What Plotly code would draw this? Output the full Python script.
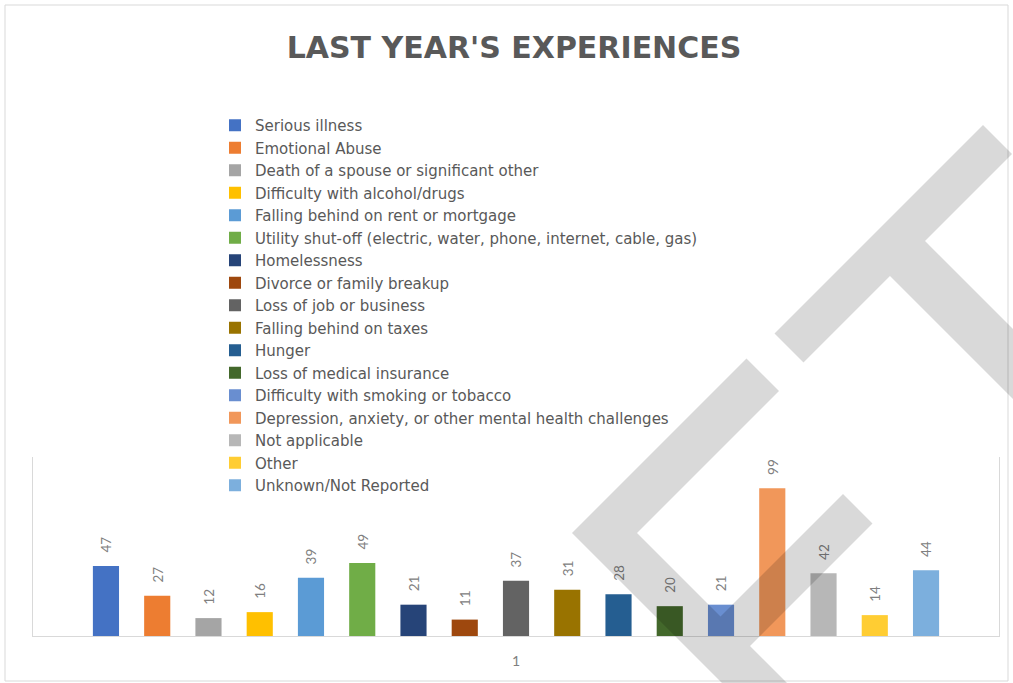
import plotly.graph_objects as go

categories = ["1"]
series_names = [
    "Serious illness",
    "Emotional Abuse",
    "Death of a spouse or significant other",
    "Difficulty with alcohol/drugs",
    "Falling behind on rent or mortgage",
    "Utility shut-off (electric, water, phone, internet, cable, gas)",
    "Homelessness",
    "Divorce or family breakup",
    "Loss of job or business",
    "Falling behind on taxes",
    "Hunger",
    "Loss of medical insurance",
    "Difficulty with smoking or tobacco",
    "Depression, anxiety, or other mental health challenges",
    "Not applicable",
    "Other",
    "Unknown/Not Reported",
]
series_values = [47, 27, 12, 16, 39, 49, 21, 11, 37, 31, 28, 20, 21, 99, 42, 14, 44]
series_colors = [
    "#4472C4", "#ED7D31", "#A5A5A5", "#FFC000", "#5B9BD5", "#70AD47",
    "#264478", "#9E480E", "#636363", "#997300", "#255E91", "#43682B",
    "#698ED0", "#F1975A", "#B7B7B7", "#FFCD33", "#7CAFDD",
]
title_text = "LAST YEAR'S EXPERIENCES"

W, H = 1013, 683
PL, PR, PT, PB = 33, 999, 457, 636  # plot area in pixels


def px_x(x):
    return (x - PL) / (PR - PL)


def px_y(y):
    return (PB - y) / (PB - PT)


fig = go.Figure()
for name, val, col in zip(series_names, series_values, series_colors):
    fig.add_trace(go.Bar(
        x=categories, y=[val], name=name,
        marker=dict(color=col, line=dict(width=0)),
        texttemplate="\u00a0\u00a0\u00a0%{y}", textposition="outside", textangle=-90,
        textfont=dict(family="Lato", size=15, color="#808080"),
        cliponaxis=False,
    ))


def uv_path(points):
    parts = []
    for i, (u, v) in enumerate(points):
        x = (u + v) / 2.0
        y = (v - u) / 2.0
        parts.append(("M" if i == 0 else "L") + f"{px_x(x):.5f},{px_y(y):.5f}")
    return " ".join(parts) + " Z"


# watermark letters (diagonal), defined in rotated (u=x-y, v=x+y) pixel space
f_shape = [(39, 1105), (388, 1105), (388, 1170), (104, 1170), (104, 1337),
           (349, 1337), (349, 1396), (104, 1396), (104, 1800), (39, 1800)]
t_shape = [(441, 1108), (858, 1108), (858, 1166), (684, 1166), (684, 1760),
           (614, 1760), (614, 1166), (441, 1166)]

shapes = [
    dict(type="rect", xref="paper", yref="paper",
         x0=px_x(5), x1=px_x(1008), y0=px_y(681), y1=px_y(5),
         line=dict(color="#d9d9d9", width=1), fillcolor="rgba(0,0,0,0)", layer="below"),
    dict(type="path", xref="paper", yref="paper", path=uv_path(f_shape),
         fillcolor="rgba(0,0,0,0.15)", line=dict(width=0), layer="above"),
    dict(type="path", xref="paper", yref="paper", path=uv_path(t_shape),
         fillcolor="rgba(0,0,0,0.15)", line=dict(width=0), layer="above"),
]

fig.update_layout(
    width=W, height=H,
    margin=dict(l=PL, r=W - PR, t=PT, b=H - PB, pad=0),
    paper_bgcolor="white", plot_bgcolor="white",
    barmode="group", bargap=0.098, bargroupgap=0.49,
    title=dict(text=title_text, x=px_x(514), xref="paper", xanchor="center",
               y=1 - 47 / H, yref="container", yanchor="middle",
               font=dict(family="DejaVu Sans", size=30, color="#595959", weight="bold")),
    legend=dict(x=px_x(215), y=px_y(109), xanchor="left", yanchor="top",
                font=dict(family="DejaVu Sans", size=15, color="#595959"),
                bgcolor="rgba(0,0,0,0)", itemclick=False, tracegroupgap=0,
                maxheight=700),
    showlegend=True,
    shapes=shapes,
    xaxis=dict(showline=True, linecolor="#d9d9d9", linewidth=1, mirror=False,
               showgrid=False, zeroline=False, ticks="", ticklabelstandoff=12,
               tickfont=dict(family="Lato", size=14, color="#7f7f7f"),
               range=[-0.5, 0.5]),
    yaxis=dict(range=[0, 120], showline=True, linecolor="#d9d9d9", linewidth=1,
               mirror=True, showgrid=False, zeroline=False, showticklabels=False,
               ticks=""),
)

fig.write_html("out.html", config={"displayModeBar": False},
               post_script="document.body.style.margin='0px';")
